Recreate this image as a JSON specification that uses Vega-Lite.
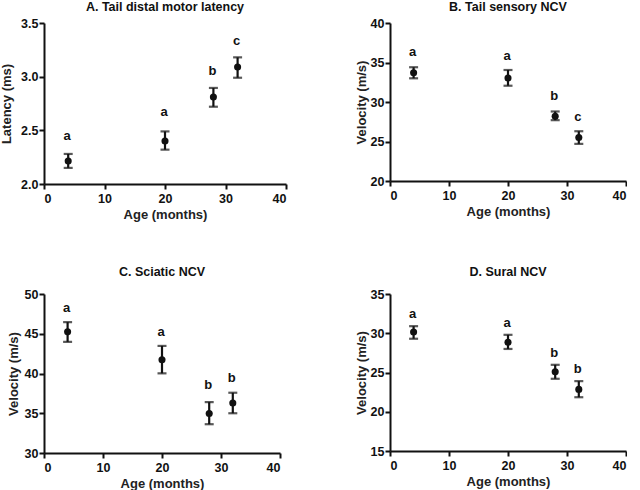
{
  "$schema": "https://vega.github.io/schema/vega-lite/v6.json",
  "usermeta": {"embedOptions": {"actions": false}},
  "padding": 0,
  "background": "white",
  "datasets": {
    "nerve": [
      {"panel": "A", "age": 4, "mean": 2.215, "lo": 2.15, "hi": 2.28, "letter": "a", "ly": 2.45},
      {"panel": "A", "age": 20, "mean": 2.40, "lo": 2.32, "hi": 2.49, "letter": "a", "ly": 2.67},
      {"panel": "A", "age": 28, "mean": 2.81, "lo": 2.72, "hi": 2.895, "letter": "b", "ly": 3.05},
      {"panel": "A", "age": 32, "mean": 3.09, "lo": 2.99, "hi": 3.18, "letter": "c", "ly": 3.33},
      {"panel": "B", "age": 4, "mean": 33.7, "lo": 33.0, "hi": 34.4, "letter": "a", "ly": 36.3},
      {"panel": "B", "age": 20, "mean": 33.04, "lo": 32.06, "hi": 34.05, "letter": "a", "ly": 35.8},
      {"panel": "B", "age": 28, "mean": 28.2, "lo": 27.7, "hi": 28.8, "letter": "b", "ly": 30.7},
      {"panel": "B", "age": 32, "mean": 25.5, "lo": 24.7, "hi": 26.3, "letter": "c", "ly": 28.1},
      {"panel": "C", "age": 4, "mean": 45.24, "lo": 43.98, "hi": 46.46, "letter": "a", "ly": 48.3},
      {"panel": "C", "age": 20, "mean": 41.74, "lo": 40.02, "hi": 43.47, "letter": "a", "ly": 45.2},
      {"panel": "C", "age": 28, "mean": 34.97, "lo": 33.62, "hi": 36.4, "letter": "b", "ly": 38.5},
      {"panel": "C", "age": 32, "mean": 36.28, "lo": 35.0, "hi": 37.58, "letter": "b", "ly": 39.4},
      {"panel": "D", "age": 4, "mean": 30.17, "lo": 29.3, "hi": 30.9, "letter": "a", "ly": 32.5},
      {"panel": "D", "age": 20, "mean": 28.86, "lo": 28.0, "hi": 29.8, "letter": "a", "ly": 31.3},
      {"panel": "D", "age": 28, "mean": 25.09, "lo": 24.2, "hi": 25.98, "letter": "b", "ly": 27.5},
      {"panel": "D", "age": 32, "mean": 22.85, "lo": 21.85, "hi": 23.9, "letter": "b", "ly": 25.4}
    ]
  },
  "columns": 2,
  "align": "each",
  "spacing": {"column": 68, "row": 43},
  "concat": [
    {
      "title": {"text": "A. Tail distal motor latency", "offset": 4},
      "width": 242, "height": 161,
      "data": {"name": "nerve"},
      "transform": [{"filter": "datum.panel == 'A'"}],
      "encoding": {
        "x": {"field": "age", "type": "quantitative", "scale": {"domain": [0, 40]}, "axis": {"values": [0, 10, 20, 30, 40], "title": "Age (months)"}},
        "y": {"field": "lo", "type": "quantitative", "scale": {"domain": [2, 3.5]}, "axis": {"values": [2, 2.5, 3, 3.5], "format": ".1f", "titlePadding": 7}, "title": "Latency (ms)"}
      },
      "layer": [
        {"mark": {"type": "rule", "strokeWidth": 2.2, "color": "#111"}, "encoding": {"y2": {"field": "hi"}}},
        {"mark": {"type": "tick", "orient": "horizontal", "size": 9, "thickness": 2.2, "color": "#111"}},
        {"mark": {"type": "tick", "orient": "horizontal", "size": 9, "thickness": 2.2, "color": "#111"}, "encoding": {"y": {"field": "hi", "type": "quantitative"}}},
        {"mark": {"type": "circle", "size": 50, "opacity": 1, "color": "#111"}, "encoding": {"y": {"field": "mean", "type": "quantitative"}}},
        {"mark": {"type": "text", "fontWeight": "bold", "fontSize": 13, "dx": -1, "color": "#111"}, "encoding": {"y": {"field": "ly", "type": "quantitative"}, "text": {"field": "letter"}}}
      ]
    },
    {
      "title": {"text": "B. Tail sensory NCV", "offset": 4},
      "width": 236, "height": 158,
      "data": {"name": "nerve"},
      "transform": [{"filter": "datum.panel == 'B'"}],
      "encoding": {
        "x": {"field": "age", "type": "quantitative", "scale": {"domain": [0, 40]}, "axis": {"values": [0, 10, 20, 30, 40], "title": "Age (months)"}},
        "y": {"field": "lo", "type": "quantitative", "scale": {"domain": [20, 40]}, "axis": {"values": [20, 25, 30, 35, 40], "titlePadding": 2}, "title": "Velocity (m/s)"}
      },
      "layer": [
        {"mark": {"type": "rule", "strokeWidth": 2.2, "color": "#111"}, "encoding": {"y2": {"field": "hi"}}},
        {"mark": {"type": "tick", "orient": "horizontal", "size": 9, "thickness": 2.2, "color": "#111"}},
        {"mark": {"type": "tick", "orient": "horizontal", "size": 9, "thickness": 2.2, "color": "#111"}, "encoding": {"y": {"field": "hi", "type": "quantitative"}}},
        {"mark": {"type": "circle", "size": 50, "opacity": 1, "color": "#111"}, "encoding": {"y": {"field": "mean", "type": "quantitative"}}},
        {"mark": {"type": "text", "fontWeight": "bold", "fontSize": 13, "dx": -1, "color": "#111"}, "encoding": {"y": {"field": "ly", "type": "quantitative"}, "text": {"field": "letter"}}}
      ]
    },
    {
      "title": {"text": "C. Sciatic NCV", "offset": 10},
      "width": 236, "height": 159,
      "data": {"name": "nerve"},
      "transform": [{"filter": "datum.panel == 'C'"}],
      "encoding": {
        "x": {"field": "age", "type": "quantitative", "scale": {"domain": [0, 40]}, "axis": {"values": [0, 10, 20, 30, 40], "title": "Age (months)"}},
        "y": {"field": "lo", "type": "quantitative", "scale": {"domain": [30, 50]}, "axis": {"values": [30, 35, 40, 45, 50], "titlePadding": 4}, "title": "Velocity (m/s)"}
      },
      "layer": [
        {"mark": {"type": "rule", "strokeWidth": 2.2, "color": "#111"}, "encoding": {"y2": {"field": "hi"}}},
        {"mark": {"type": "tick", "orient": "horizontal", "size": 9, "thickness": 2.2, "color": "#111"}},
        {"mark": {"type": "tick", "orient": "horizontal", "size": 9, "thickness": 2.2, "color": "#111"}, "encoding": {"y": {"field": "hi", "type": "quantitative"}}},
        {"mark": {"type": "circle", "size": 50, "opacity": 1, "color": "#111"}, "encoding": {"y": {"field": "mean", "type": "quantitative"}}},
        {"mark": {"type": "text", "fontWeight": "bold", "fontSize": 13, "dx": -1, "color": "#111"}, "encoding": {"y": {"field": "ly", "type": "quantitative"}, "text": {"field": "letter"}}}
      ]
    },
    {
      "title": {"text": "D. Sural NCV", "offset": 10},
      "width": 236, "height": 157,
      "data": {"name": "nerve"},
      "transform": [{"filter": "datum.panel == 'D'"}],
      "encoding": {
        "x": {"field": "age", "type": "quantitative", "scale": {"domain": [0, 40]}, "axis": {"values": [0, 10, 20, 30, 40], "title": "Age (months)"}},
        "y": {"field": "lo", "type": "quantitative", "scale": {"domain": [15, 35]}, "axis": {"values": [15, 20, 25, 30, 35], "titlePadding": 2}, "title": "Velocity (m/s)"}
      },
      "layer": [
        {"mark": {"type": "rule", "strokeWidth": 2.2, "color": "#111"}, "encoding": {"y2": {"field": "hi"}}},
        {"mark": {"type": "tick", "orient": "horizontal", "size": 9, "thickness": 2.2, "color": "#111"}},
        {"mark": {"type": "tick", "orient": "horizontal", "size": 9, "thickness": 2.2, "color": "#111"}, "encoding": {"y": {"field": "hi", "type": "quantitative"}}},
        {"mark": {"type": "circle", "size": 50, "opacity": 1, "color": "#111"}, "encoding": {"y": {"field": "mean", "type": "quantitative"}}},
        {"mark": {"type": "text", "fontWeight": "bold", "fontSize": 13, "dx": -1, "color": "#111"}, "encoding": {"y": {"field": "ly", "type": "quantitative"}, "text": {"field": "letter"}}}
      ]
    }
  ],
  "config": {
    "font": "Liberation Sans",
    "view": {"stroke": null},
    "title": {"fontSize": 12.5, "fontWeight": "bold", "color": "#111", "anchor": "middle"},
    "axis": {
      "grid": false,
      "labelOverlap": false,
      "domainColor": "#111", "domainWidth": 2,
      "tickColor": "#111", "tickWidth": 2, "tickSize": 5,
      "labelFont": "Liberation Sans", "labelFontWeight": "bold", "labelFontSize": 12.5, "labelColor": "#111", "labelPadding": 1,
      "titleFont": "Liberation Sans", "titleFontWeight": "bold", "titleFontSize": 13, "titleColor": "#222", "titlePadding": 4
    },
    "axisX": {"labelPadding": 3}
  }
}
